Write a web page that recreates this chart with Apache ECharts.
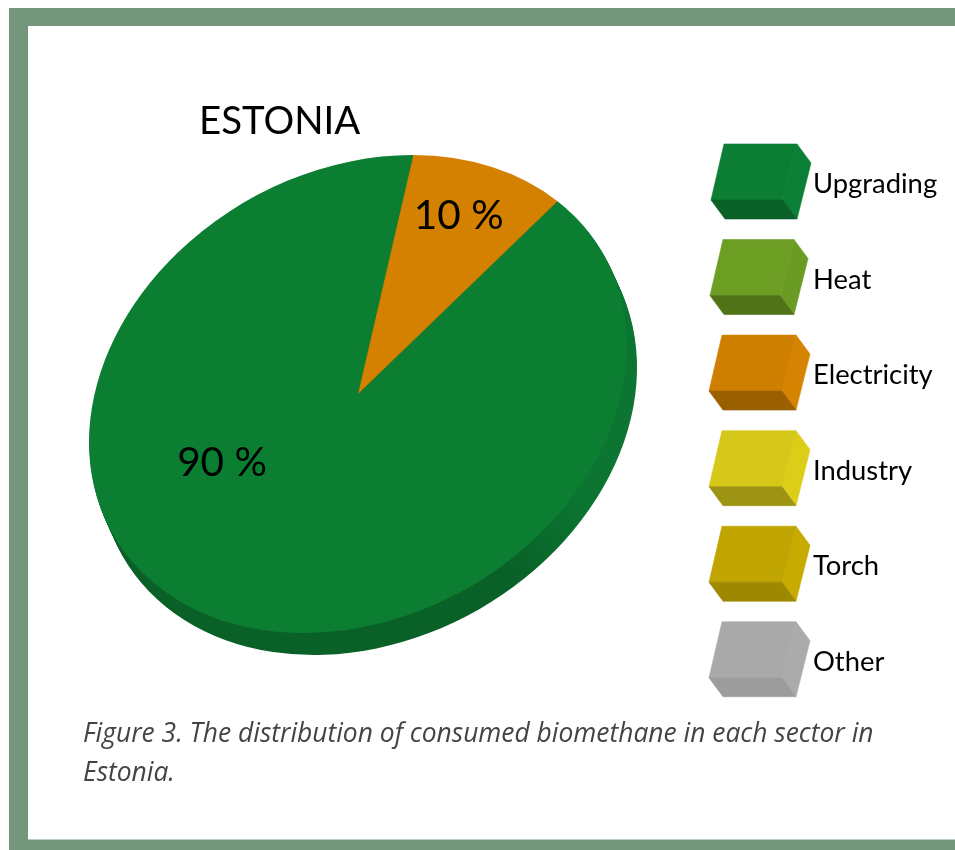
<!DOCTYPE html>
<html>
<head>
<meta charset="utf-8">
<style>html,body{margin:0;padding:0;background:#fff}#c{width:955px;height:850px}</style>
<script src="https://cdn.jsdelivr.net/npm/echarts@6/dist/echarts.min.js"></script>
</head>
<body>
<div id="c"></div>
<script>
// ---- data ----
var categories = ['Upgrading', 'Heat', 'Electricity', 'Industry', 'Torch', 'Other'];
var shares = [90, 0, 10, 0, 0, 0];
var captionLines = ['Figure 3. The distribution of consumed biomethane in each sector in', 'Estonia.'];
var chartTitle = 'ESTONIA';

// ---- styles ----
var frontColors = ['#0b7e34', '#6d9e24', '#cf7f00', '#d5c818', '#c0a500', '#a9a9a9'];
var sideColors  = ['#0a7f35', '#6a9c23', '#d58300', '#dccd19', '#c7ab00', '#ababab'];
var lowerColors = ['#0a6128', '#507317', '#9a6000', '#9e9414', '#9e8800', '#9c9c9c'];
var sliceColors = ['#0c7e32', '#6d9e24', '#d48000', '#d5c818', '#c0a500', '#a9a9a9'];
var frameColor = '#73967c';
var font = 'Lato, "Open Sans", sans-serif';
var captionFont = '"Open Sans", Lato, sans-serif';

// ---- tilted-disc geometry ----
var cx = 358, cy = 394, major = 282.5, minor = 222.9, tiltDeg = 29.8, startDeg = 17.8;
var depthX = 10, depthY = 22, depthSteps = 16;
var tilt = tiltDeg * Math.PI / 180;
var labelAnchors = {0: [0.54, 176.3], 2: [0.78, 37]};

function discPoint(r, deg) {
  var t = deg * Math.PI / 180, u = major * r * Math.cos(t), v = minor * r * Math.sin(t);
  return [cx + u * Math.cos(tilt) - v * Math.sin(tilt), cy - (u * Math.sin(tilt) + v * Math.cos(tilt))];
}
var total = shares.reduce(function (a, b) { return a + b; }, 0);
function startOf(i) {
  var s = 0;
  for (var k = 0; k < i; k++) s += shares[k];
  return s / total * 360;
}

function renderSide(params, api) {
  var children = [];
  for (var i = 1; i <= depthSteps; i++) {
    children.push({
      type: 'circle',
      shape: {cx: 0, cy: 0, r: 100},
      x: cx + depthX * i / depthSteps, y: cy + depthY * i / depthSteps,
      rotation: tilt, scaleX: major / 100, scaleY: minor / 100,
      style: {fill: {type: 'linear', x: 0, y: 0, x2: 1, y2: 0, colorStops: [
        {offset: 0, color: '#0a6128'}, {offset: 0.58, color: '#0a6128'},
        {offset: 0.76, color: '#0b7531'}, {offset: 1, color: '#0b7531'}]}}
    });
  }
  return {type: 'group', children: children};
}

function renderSlice(params, api) {
  var i = params.dataIndex, v = api.value(0);
  if (!v) return null;
  var a0 = (-startDeg + startOf(i)) * Math.PI / 180;
  var a1 = a0 + v / total * 2 * Math.PI;
  var children = [{
    type: 'sector',
    shape: {cx: 0, cy: 0, r0: 0, r: 100, startAngle: a0, endAngle: a1, clockwise: true},
    x: cx, y: cy, rotation: tilt, scaleX: major / 100, scaleY: minor / 100,
    style: {fill: sliceColors[i]}
  }];
  var anc = labelAnchors[i];
  if (anc) {
    var p = discPoint(anc[0], anc[1]);
    children.push({
      type: 'text', x: p[0], y: p[1], z2: 10,
      style: {text: v + ' %', fill: '#000', font: '40.5px ' + font, textAlign: 'center', textVerticalAlign: 'middle'}
    });
  }
  return {type: 'group', children: children};
}

function renderKey(i) {
  var top = 144 + i * 95.55, h = 75, lower = 19;
  var left = i === 0 ? 711 : i === 1 ? 710 : 709;
  var tip = i === 0 ? 811 : i === 1 ? 808 : 810;
  var right = tip - 14, inner = right - 14;
  var face = function (pts, c) { return {type: 'polygon', shape: {points: pts}, style: {fill: c, stroke: c, lineWidth: 0.6}}; };
  return {type: 'group', children: [
    face([[right, top], [tip, top + lower], [right, top + h], [inner, top + h - lower]], sideColors[i]),
    face([[left + 13, top], [right, top], [inner, top + h - lower], [left, top + h - lower]], frontColors[i]),
    face([[left, top + h - lower], [inner, top + h - lower], [right, top + h], [left + 14, top + h]], lowerColors[i]),
    {type: 'text', x: 813, y: top + 40.4, style: {text: categories[i], fill: '#000', font: '27.4px ' + font, textAlign: 'left', textVerticalAlign: 'middle'}}
  ]};
}

var chart = echarts.init(document.getElementById('c'), null, {renderer: 'canvas'});
chart.setOption({
  animation: false,
  backgroundColor: '#fff',
  title: {text: chartTitle, left: 199, top: 103, padding: 0,
    textStyle: {color: '#000', fontFamily: font, fontSize: 38.4, fontWeight: 'normal'}},
  graphic: [
    {type: 'rect', z: -10, shape: {x: 9, y: 8, width: 946, height: 842}, style: {fill: frameColor}},
    {type: 'rect', z: -9, shape: {x: 28, y: 26, width: 927, height: 813.5}, style: {fill: '#fff'}},
    {type: 'text', left: 83, top: 721, style: {text: captionLines[0], fill: '#444', font: 'italic 26.4px ' + captionFont}},
    {type: 'text', left: 83, top: 760, style: {text: captionLines[1], fill: '#444', font: 'italic 26.4px ' + captionFont}}
  ],
  series: [
    {type: 'custom', name: 'side', coordinateSystem: 'none', z: 1, silent: true, data: [[1]], renderItem: renderSide},
    {type: 'custom', name: 'share', coordinateSystem: 'none', z: 2, silent: true,
      data: shares.map(function (v, i) { return {name: categories[i], value: [v]}; }), renderItem: renderSlice},
    {type: 'custom', name: 'legend', coordinateSystem: 'none', z: 3, silent: true,
      data: categories.map(function (c, i) { return [i]; }),
      renderItem: function (params) { return renderKey(params.dataIndex); }}
  ]
});
</script>
</body>
</html>
